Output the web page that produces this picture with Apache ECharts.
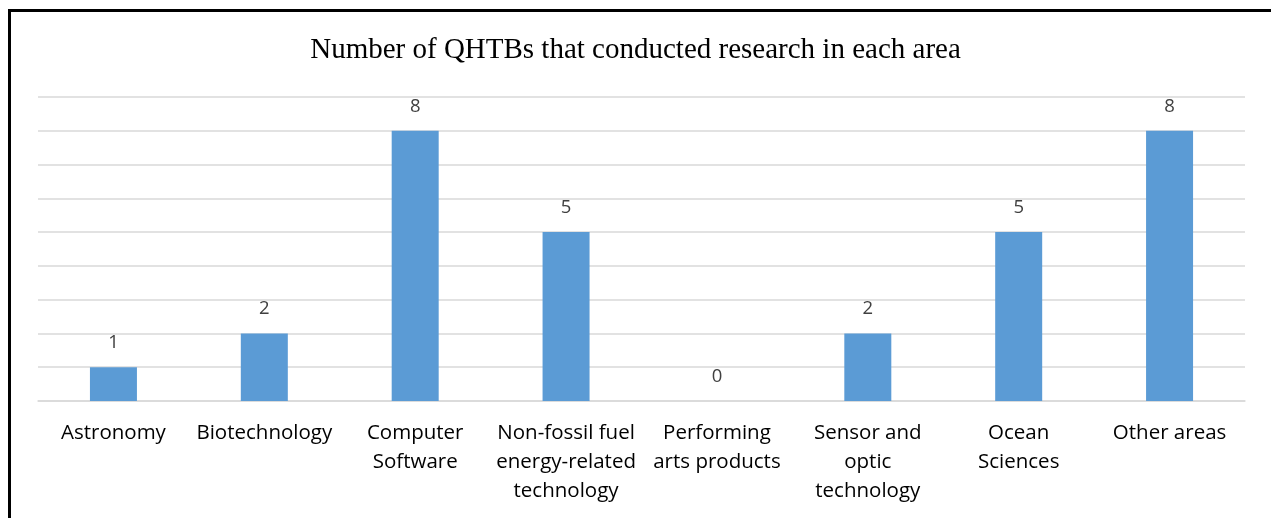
<!DOCTYPE html>
<html><head><meta charset="utf-8">
<script src="https://cdn.jsdelivr.net/npm/echarts@6/dist/echarts.min.js"></script>
<style>
html,body{margin:0;padding:0;background:#fff;}
#frame{position:absolute;left:8px;top:9px;width:1263px;height:509px;border-top:3px solid #000;border-left:3px solid #000;box-sizing:border-box;}
#c{position:absolute;left:0;top:0;width:1271px;height:518px;}
</style></head>
<body>
<div id="frame"></div>
<div id="c"></div>
<script>
const titleText = "Number of QHTBs that conducted research in each area";
const categories = ["Astronomy","Biotechnology","Computer\nSoftware","Non-fossil fuel\nenergy-related\ntechnology","Performing\narts products","Sensor and\noptic\ntechnology","Ocean\nSciences","Other areas"];
const values = [1,2,8,5,0,2,5,8];

const chart = echarts.init(document.getElementById('c'), null, {renderer:'canvas'});
chart.setOption({
  animation:false,
  title:{text:titleText,left:'center',top:31,textStyle:{fontFamily:'Liberation Serif',fontSize:29,fontWeight:'normal',color:'#000'}},
  grid:{left:38,right:26,top:97,bottom:117},
  xAxis:{type:'category',data:categories,
    axisLine:{lineStyle:{color:'#D9D9D9',width:1.5}},axisTick:{show:false},
    axisLabel:{interval:0,margin:18,fontFamily:'Open Sans',fontSize:20.5,color:'#000',lineHeight:29}},
  yAxis:{type:'value',min:0,max:9,interval:1,axisLabel:{show:false},axisLine:{show:false},axisTick:{show:false},
    splitLine:{lineStyle:{color:'#D9D9D9',width:1.5}}},
  series:[{type:'bar',data:values,barWidth:47,itemStyle:{color:'#5B9BD5'},
    label:{show:true,position:'top',distance:15,fontFamily:'Open Sans',fontSize:18.5,color:'#404040'}}]
});
</script>
</body></html>
